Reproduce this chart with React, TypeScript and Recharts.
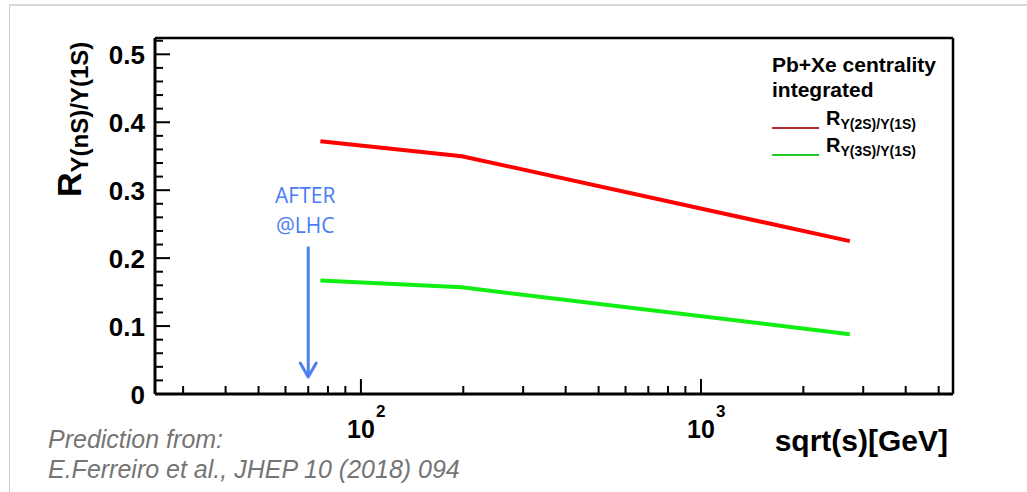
import React from 'react';
import {
  LineChart,
  Line,
  XAxis,
  YAxis,
  Legend,
  ReferenceLine,
} from 'recharts';

// sqrt(s) in GeV and predicted ratios
const ENERGY = [76, 198, 2740];
const R_2S = [0.372, 0.35, 0.225];
const R_3S = [0.167, 0.157, 0.088];

const X_TICKS = [30, 40, 50, 60, 70, 80, 90, 100, 200, 300, 400, 500, 600, 700, 800, 900, 1000, 2000, 3000, 4000, 5000];
const X_MAJOR = [100, 1000];
const X_EXP = ['2', '3'];

const Y_TICKS = [0, 0.02, 0.04, 0.06, 0.08, 0.1, 0.12, 0.14, 0.16, 0.18, 0.2, 0.22, 0.24, 0.26, 0.28, 0.3, 0.32, 0.34, 0.36, 0.38, 0.4, 0.42, 0.44, 0.46, 0.48, 0.5, 0.52];
const Y_MAJOR = [0, 0.1, 0.2, 0.3, 0.4, 0.5];
const Y_LABELS = ['0', '0.1', '0.2', '0.3', '0.4', '0.5'];

const X_DOMAIN = [24.8, 5510];
const Y_DOMAIN = [0, 0.524];

// AFTER@LHC arrow: energy and vertical extent
const ARROW_X = 70;
const ARROW_Y = [0.217, 0.025];

const SERIES = [
  { key: 'r2', name: 'Υ(2S)/Υ(1S)', values: R_2S, color: '#ff0000', legendColor: '#b03030' },
  { key: 'r3', name: 'Υ(3S)/Υ(1S)', values: R_3S, color: '#11ee11', legendColor: '#22cc22' },
];

const data = ENERGY.map((e, i) => {
  const row: Record<string, number> = { e };
  SERIES.forEach((s) => (row[s.key] = s.values[i]));
  return row;
});

const FONT = '"Liberation Sans", Arial, sans-serif';

const XTick = (props: any) => {
  const { x, y, payload } = props;
  const idx = X_MAJOR.indexOf(payload.value);
  const major = idx >= 0;
  return (
    <g>
      <line x1={x} y1={y} x2={x} y2={y - (major ? 15 : 8)} stroke="#000" strokeWidth={2} />
      {major && (
        <g fontFamily={FONT} fontWeight="bold" fill="#000">
          <text x={x} y={y + 44} fontSize={25} textAnchor="middle">10</text>
          <text x={x + 15} y={y + 23} fontSize={17}>{X_EXP[idx]}</text>
        </g>
      )}
    </g>
  );
};

const YTick = (props: any) => {
  const { x, y, payload } = props;
  const idx = Y_MAJOR.indexOf(payload.value);
  const major = idx >= 0;
  return (
    <g>
      <line x1={x} y1={y} x2={x + (major ? 15 : 8)} y2={y} stroke="#000" strokeWidth={2} />
      {major && (
        <text x={x - 10} y={y + 10} fontSize={26} fontFamily={FONT} fontWeight="bold" textAnchor="end" fill="#000">
          {Y_LABELS[idx]}
        </text>
      )}
    </g>
  );
};

const ArrowShape = (props: any) => {
  const { x1, y1, x2, y2 } = props;
  return (
    <g>
      <text x={x1 - 3} y={y1 - 44} fontSize={21} fontFamily='"Open Sans", sans-serif' fill="#4a7cf5" textAnchor="middle">AFTER</text>
      <text x={x1 - 3} y={y1 - 14} fontSize={21} fontFamily='"Open Sans", sans-serif' fill="#4a7cf5" textAnchor="middle">@LHC</text>
      <line x1={x1} y1={y1} x2={x2} y2={y2} stroke="#4f80f0" strokeWidth={3} />
      <polyline points={`${x2 - 8},${y2 - 14} ${x2},${y2} ${x2 + 8},${y2 - 14}`} fill="none" stroke="#4f80f0" strokeWidth={3} strokeLinecap="round" strokeLinejoin="round" />
    </g>
  );
};

const LegendBox = () => (
  <svg width={200} height={120} style={{ display: 'block' }}>
    <g fontFamily={FONT} fontWeight="bold" fill="#000">
      <text x={0} y={20} fontSize={21}>Pb+Xe centrality</text>
      <text x={0} y={45} fontSize={21}>integrated</text>
      {SERIES.map((s, i) => (
        <g key={s.key}>
          <line x1={0} x2={47} y1={76 + i * 27} y2={76 + i * 27} stroke={s.legendColor} strokeWidth={2} />
          <text x={54} y={73 + i * 27} fontSize={20}>
            R<tspan fontSize={14} dy={4}>{s.name}</tspan>
          </text>
        </g>
      ))}
    </g>
  </svg>
);

export default function App() {
  return (
    <div style={{ position: 'absolute', left: 0, top: 0, width: 1027, height: 492, background: '#fff', fontFamily: FONT }}>
      <LineChart width={1027} height={492} data={data} margin={{ top: 38, right: 74, bottom: 68, left: 95 }}>
        <XAxis
          dataKey="e"
          type="number"
          scale="log"
          domain={X_DOMAIN}
          allowDataOverflow
          ticks={X_TICKS}
          interval={0}
          height={30}
          tickSize={0}
          tickMargin={0}
          tickLine={false}
          tick={<XTick />}
          axisLine={{ stroke: '#000', strokeWidth: 3 }}
        />
        <YAxis
          type="number"
          domain={Y_DOMAIN}
          allowDataOverflow
          ticks={Y_TICKS}
          interval={0}
          width={60}
          tickSize={0}
          tickMargin={0}
          tickLine={false}
          tick={<YTick />}
          axisLine={{ stroke: '#000', strokeWidth: 3 }}
        />
        <ReferenceLine y={Y_DOMAIN[1]} stroke="#000" strokeWidth={2.5} />
        <ReferenceLine x={X_DOMAIN[1]} stroke="#000" strokeWidth={2.5} />
        {SERIES.map((s) => (
          <Line
            key={s.key}
            dataKey={s.key}
            name={s.name}
            stroke={s.color}
            strokeWidth={4}
            dot={false}
            isAnimationActive={false}
          />
        ))}
        <ReferenceLine
          segment={[
            { x: ARROW_X, y: ARROW_Y[0] },
            { x: ARROW_X, y: ARROW_Y[1] },
          ]}
          shape={<ArrowShape />}
        />
        <Legend
          layout="horizontal"
          verticalAlign="middle"
          content={<LegendBox />}
          wrapperStyle={{ position: 'absolute', left: 772, top: 52, width: 200, height: 120 }}
        />
      </LineChart>
      <svg width={1027} height={492} style={{ position: 'absolute', left: 0, top: 0, pointerEvents: 'none' }}>
        <line x1={9} y1={5} x2={1027} y2={5} stroke="#d9d9d9" strokeWidth={2} />
        <line x1={9.5} y1={5} x2={9.5} y2={492} stroke="#cccccc" strokeWidth={1} />
        <text transform="translate(81,197) rotate(-90)" fontFamily={FONT} fontWeight="bold" fill="#000" fontSize={34}>
          R<tspan fontSize={24} dy={7}>Υ(nS)/Υ(1S)</tspan>
        </text>
        <text x={948} y={451} textAnchor="end" fontFamily={FONT} fontWeight="bold" fontSize={30} fill="#000">
          sqrt(s)[GeV]
        </text>
        <g fontFamily={FONT} fontStyle="italic" fontSize={25} fill="#757575">
          <text x={48} y={448}>Prediction from:</text>
          <text x={48} y={478}>E.Ferreiro et al., JHEP 10 (2018) 094</text>
        </g>
      </svg>
    </div>
  );
}
